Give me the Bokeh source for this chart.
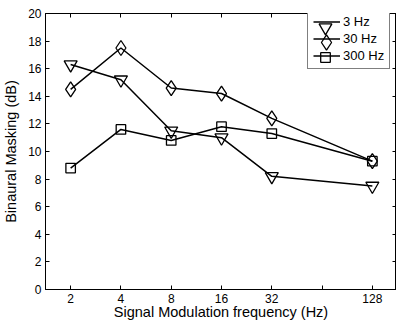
import numpy as np
from bokeh.plotting import figure
from bokeh.models import (FixedTicker, LogAxis, LinearAxis, Legend, LegendItem, Range1d)
from bokeh.embed import file_html
from bokeh.resources import INLINE

freqs = [2, 4, 8, 16, 32, 128]
hz3 = [16.3, 15.2, 11.5, 11.0, 8.2, 7.5]
hz30 = [14.5, 17.5, 14.6, 14.2, 12.4, 9.3]
hz300 = [8.8, 11.6, 10.8, 11.8, 11.3, 9.3]
x_ticks = [2, 4, 8, 16, 32, 64, 128]
x_tick_labels = {64: ""}
y_ticks = list(range(0, 21, 2))

FONT = "Liberation Sans"

p = figure(width=396, height=322, x_axis_type="log",
           x_range=Range1d(2 ** 0.5, 2 ** 7.48), y_range=Range1d(0, 20),
           output_backend="svg", toolbar_location=None,
           min_border_left=0, min_border_right=0, min_border_top=13, min_border_bottom=0)

p.background_fill_color = "white"
p.border_fill_color = "white"
p.outline_line_color = "black"
p.outline_line_width = 1
p.xgrid.visible = False
p.ygrid.visible = False

p.xaxis.ticker = FixedTicker(ticks=x_ticks)
p.xaxis.major_label_overrides = x_tick_labels
p.yaxis.ticker = FixedTicker(ticks=y_ticks)

for ax in [p.xaxis[0], p.yaxis[0]]:
    ax.major_tick_in = 4
    ax.major_tick_out = 0
    ax.minor_tick_line_color = None
    ax.major_label_text_font = FONT
    ax.major_label_text_font_size = "12px"
    ax.major_label_text_color = "black"
    ax.axis_label_text_font = FONT
    ax.axis_label_text_font_size = "14.5px"
    ax.axis_label_text_font_style = "normal"
    ax.axis_label_text_color = "black"
    ax.axis_line_color = "black"
    ax.major_tick_line_color = "black"

p.xaxis.axis_label = "Signal Modulation frequency (Hz)"
p.yaxis.axis_label = "Binaural Masking (dB)"
p.xaxis.major_label_standoff = 4
p.xaxis.axis_label_standoff = -2
p.yaxis.major_label_standoff = 4
p.yaxis.axis_label_standoff = 6

top = LogAxis(ticker=FixedTicker(ticks=x_ticks), major_tick_in=4, major_tick_out=0,
              minor_tick_line_color=None, major_label_text_font_size="1px",
              major_label_text_color=None, major_label_standoff=0,
              axis_line_color="black")
p.add_layout(top, "above")
right = LinearAxis(ticker=FixedTicker(ticks=y_ticks), major_tick_in=4, major_tick_out=0,
                   minor_tick_line_color=None, major_label_text_font_size="1px",
                   major_label_text_color=None, major_label_standoff=0,
                   axis_line_color="black")
p.add_layout(right, "right")

labels = ["3 Hz", "30 Hz", "300 Hz"]
markers = ["inverted_triangle", "diamond", "square"]
sizes = [13, 15, 9.5]
series = [hz3, hz30, hz300]

line_items = []
marker_renderers = []
for label, ys, marker, size in zip(labels, series, markers, sizes):
    lr = p.line(freqs, ys, line_color="black", line_width=1.5)
    sr = p.scatter(freqs, ys, marker=marker, size=size, line_color="black",
                   line_width=1.3, fill_alpha=0)
    line_items.append(LegendItem(label=label, renderers=[lr]))
    marker_renderers.append(sr)

# frame geometry (screen px) used to place legend pieces
FL, FB = 47, 290
leg_left, leg_top, pad, gh, sp, gw = 309, 17, 5, 13, 2, 27
leg_h = 2 * pad + 3 * gh + 2 * sp
legend = Legend(items=line_items, location=(leg_left - FL, FB - (leg_top + leg_h)),
                padding=pad, spacing=sp, glyph_height=gh, glyph_width=gw,
                label_height=gh, label_standoff=3, label_text_font=FONT,
                label_text_font_size="13px", label_text_color="black",
                border_line_color="black", border_line_width=1,
                background_fill_color="white", background_fill_alpha=1)
p.add_layout(legend)

# large legend markers (Bokeh draws legend markers at 0.4 x glyph box)
glyph_x0 = leg_left + pad
for i, (sr, size) in enumerate(zip(marker_renderers, sizes)):
    G = int(round(size / 0.4))
    cx = glyph_x0 + gw / 2
    cy = leg_top + pad + gh / 2 + i * (gh + sp)
    mleg = Legend(items=[LegendItem(label="", renderers=[sr])],
                  location=(int(round(cx - G / 2 - FL)), int(round(FB - (cy + G / 2)))),
                  padding=0, spacing=0, glyph_height=G, glyph_width=G,
                  label_width=0, label_height=0, label_standoff=0,
                  label_text_font_size="1px", border_line_color=None,
                  background_fill_alpha=0)
    p.add_layout(mleg)

open("out.html", "w").write(file_html(p, INLINE))
